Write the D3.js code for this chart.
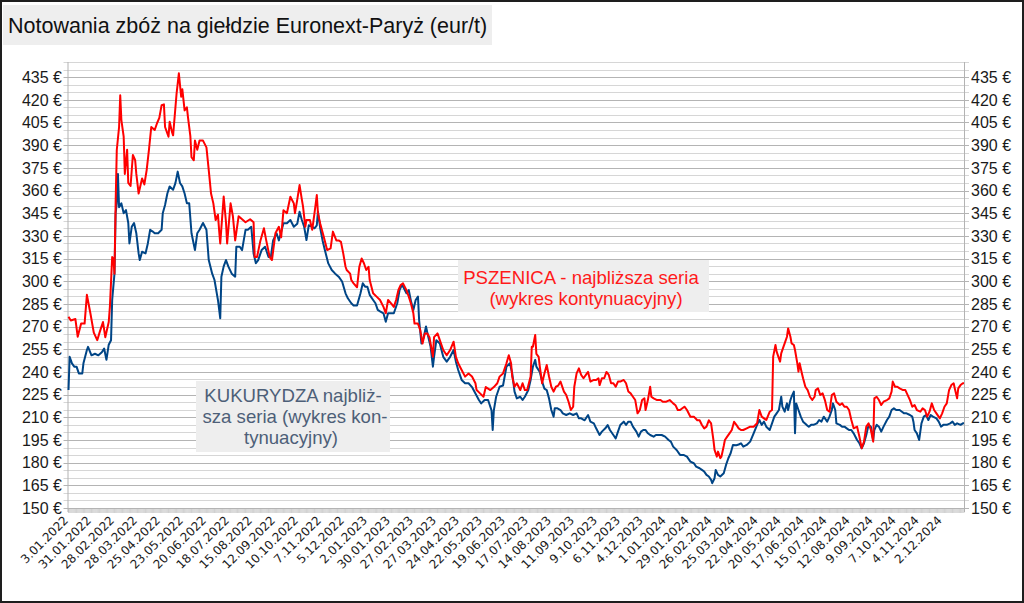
<!DOCTYPE html>
<html><head><meta charset="utf-8">
<script src="https://cdn.jsdelivr.net/npm/d3@7"></script>
<style>
html,body{margin:0;padding:0;background:#fff;}
svg{display:block;}
text{font-family:"Liberation Sans",Arial,sans-serif;}
</style></head>
<body>
<script>
// ---- data (session index = trading day counted from 3.01.2022) ----
const title = "Notowania zbóż na giełdzie Euronext-Paryż (eur/t)";
const tickLabels = ["3.01.2022","31.01.2022","28.02.2022","28.03.2022","25.04.2022","23.05.2022","20.06.2022","18.07.2022","15.08.2022","12.09.2022","10.10.2022","7.11.2022","5.12.2022","2.01.2023","30.01.2023","27.02.2023","27.03.2023","24.04.2023","22.05.2023","19.06.2023","17.07.2023","14.08.2023","11.09.2023","9.10.2023","6.11.2023","4.12.2023","1.01.2024","29.01.2024","26.02.2024","25.03.2024","22.04.2024","20.05.2024","17.06.2024","15.07.2024","12.08.2024","9.09.2024","7.10.2024","4.11.2024","2.12.2024"];
const sessionsPerLabel = 20;
const sessionCount = 780;
const yTicks = [150,165,180,195,210,225,240,255,270,285,300,315,330,345,360,375,390,405,420,435];
const yMin = 150, yMax = 445, gridStep = 5;

const wheat = [[0,276.5],[2,274],[6,275],[8,263.3],[11,272],[14,272],[16,291],[19,279],[22,266],[25,261],[27,266],[30,273],[32,263],[35,273],[36,283],[38,316],[39,315],[40,305],[41,351.7],[42,386.8],[44,402],[45,423],[46,406.6],[48,395.6],[49,371],[51,387],[52,365],[54,363],[56,383.5],[58,380],[59,371],[61,358],[64,368],[66,364],[68,373.5],[70,387],[72,402],[75,400],[77,404.5],[79,408],[81,416.5],[83,417],[84,402],[87,395.6],[88,405.5],[90,398.8],[91,396.5],[94,424],[96,437.5],[98,422],[99,427],[101,413],[103,415],[104,408],[106,396],[107,382],[109,380],[110,393],[112,387],[114,393],[117,393],[120,388.5],[122,373.5],[124,358],[126,351.5],[128,340.5],[130,344],[131,334],[132,325],[135,356],[137,339],[138,325],[141,351.5],[143,343],[145,327],[148,343],[151,341],[154,339],[158,341],[161,339],[162,316],[164,316],[167,327],[170,335],[172,327],[175,316],[177,314],[180,331.7],[183,336],[185,329],[187,347],[190,345],[193,355.9],[196,351.5],[197,345],[199,354],[201,363.6],[203,354],[204,349.5],[206,336],[207,340.5],[210,340.5],[212,334],[214,345],[216,357],[217,345],[219,338],[222,329.5],[225,320.6],[228,321.7],[230,332.8],[233,327],[235,327],[237,326],[239,318.4],[241,309.6],[242,307.4],[245,305],[246,300.8],[248,298.6],[251,296],[253,309.6],[255,315],[257,311.9],[259,307.4],[261,309.6],[262,300.8],[265,292],[268,289.8],[271,287.6],[274,283],[276,278.8],[278,287.6],[281,285],[283,283],[285,287.6],[287,294.2],[289,297.5],[291,298.6],[294,294],[296,289.8],[298,285],[300,278.8],[301,272],[303,272],[304,272],[306,267.7],[308,258.8],[310,265.5],[312,265.5],[314,263],[317,250.1],[318,263],[321,265.5],[323,261],[326,254.5],[329,251],[332,254.5],[335,260],[337,250],[339,245.7],[342,241.3],[345,236.9],[348,239],[351,237],[354,232.5],[355,228],[358,225.8],[361,223.6],[363,230],[367,228],[370,230],[373,232.5],[375,236.9],[378,239],[381,245.7],[383,251],[385,245.7],[386,237],[388,230.2],[390,232.5],[393,228],[395,232.5],[397,228],[399,228],[402,237],[403,256.7],[404,256.7],[406,264.4],[407,252],[409,250],[410,243.5],[412,232.5],[414,239],[416,244.6],[418,237],[420,230.2],[422,227],[424,230.2],[426,231],[428,233.6],[431,227],[433,224.7],[435,220.3],[437,214.8],[439,217],[440,230.2],[442,239],[444,242.4],[446,238],[448,235.8],[451,239],[452,240],[454,233.6],[457,234.7],[459,234.7],[461,235.8],[462,231.3],[464,235.8],[466,235.8],[468,240],[470,238],[472,232.5],[474,232.5],[476,230.2],[478,233.6],[480,233.6],[483,234.7],[485,232.5],[487,227],[489,225.8],[491,223.6],[493,221.4],[495,212.6],[497,214.8],[499,221.4],[501,222.5],[502,214.8],[504,221.4],[506,230.2],[507,223.6],[509,222.5],[512,221.4],[515,221.4],[517,220.3],[520,220.3],[523,221.4],[526,219.2],[528,218],[530,214.8],[532,214.8],[534,216],[536,217],[538,214.8],[541,210.4],[544,210.4],[547,208],[549,208],[551,204.9],[553,202.7],[555,203.8],[557,208],[559,206],[561,195],[562,188.4],[564,184],[565,187.3],[567,183],[568,184],[570,191],[571,195],[573,197.2],[575,199.4],[577,201.6],[579,207],[581,205],[583,202.7],[585,201.6],[587,201.6],[590,202.7],[593,203.8],[596,203.8],[599,206],[601,214.8],[603,210.4],[605,209.3],[607,208.2],[610,213.7],[612,214.8],[613,250.1],[615,257.8],[616,253.4],[618,249],[619,246.8],[620,252.3],[622,256.7],[623,258.9],[625,263.3],[626,268.8],[628,263.3],[629,258.9],[631,257.8],[632,254.5],[634,245.7],[635,240.2],[636,245.7],[638,239],[639,235.8],[641,230.2],[643,228],[645,223.6],[647,221.4],[649,223.6],[650,228],[652,229.1],[654,224.7],[656,225.8],[658,221.4],[660,214.8],[662,213.7],[664,224.7],[666,225.8],[668,220.3],[671,218.1],[673,219.2],[675,217],[677,217],[679,214.8],[681,208.2],[683,202.7],[686,203.8],[688,197.2],[690,189.5],[692,193.9],[694,203.8],[696,206],[698,201.6],[700,193.9],[701,222.5],[703,223.6],[705,221.4],[707,218.1],[709,220.3],[712,221.4],[714,222.5],[716,227],[717,233.6],[719,230.2],[721,230.2],[723,229.1],[726,228],[728,228],[730,224.7],[732,221.4],[734,217],[736,218.1],[738,214.8],[741,213.7],[743,215.9],[745,214.8],[747,210.4],[749,213.7],[751,219.2],[753,214.8],[755,212.6],[758,209.3],[760,212.6],[762,217],[764,219.2],[766,228],[768,231.3],[770,232.5],[771,229.1],[773,222.5],[774,229.1],[776,231.3],[778,232.5],[779,232.5]];

const corn = [[0,228],[1,250],[3,245.7],[5,243.5],[7,243.5],[9,239],[12,239],[13,245.7],[16,254.5],[17,256.6],[20,251],[23,252],[26,251],[29,253],[31,255.5],[33,248],[35,258],[37,261],[38,287.6],[40,305],[41,345],[42,351.5],[43,371],[44,349],[46,351.5],[48,345],[50,347],[52,338.5],[53,325],[55,336],[57,338.5],[59,331.7],[61,318.4],[62,314],[64,319.5],[67,318.4],[69,325],[71,334],[73,333],[75,331.7],[78,331.7],[81,334],[82,345],[84,350.4],[86,358],[88,362.7],[91,360.5],[93,364.9],[95,372.5],[97,365],[99,362.7],[101,358],[103,351.5],[105,351.5],[107,331.7],[110,320.6],[112,331.7],[114,334],[117,338.5],[120,334],[122,314],[125,305],[127,300.8],[129,292],[130,287.6],[132,275.5],[133,303],[135,309.8],[137,314],[139,309.8],[142,305],[145,303],[146,322.8],[149,322.8],[151,320.6],[154,334],[156,334],[159,336],[161,318.4],[163,311.9],[165,314],[168,320.6],[171,322.8],[174,316],[176,316],[178,327],[181,331.7],[183,327],[187,338.3],[190,338.3],[193,340.5],[196,336],[199,338],[201,346],[203,340.5],[205,336],[207,327.2],[209,337],[212,336],[214,335],[216,337],[217,346],[219,335],[221,327],[223,320.6],[226,311.8],[229,307.4],[232,305],[235,303],[238,299.8],[241,292],[243,288.7],[246,285.4],[248,284],[251,284],[254,292],[256,298.6],[258,296.4],[260,296.4],[262,291],[265,287.6],[267,285.4],[269,281],[271,280],[274,278.8],[276,273.2],[278,278.8],[281,278.8],[283,278.8],[286,285.4],[288,294.2],[290,297.5],[291,296.4],[294,292],[296,294.2],[298,286.5],[300,281],[302,287.6],[304,289.8],[305,274.3],[307,258.8],[309,263],[311,270],[313,263],[315,256.6],[317,243.5],[318,250],[320,261],[323,258.8],[326,250],[329,246.8],[332,250],[335,254.5],[337,246.8],[339,241.3],[342,234.7],[345,232.5],[348,232.5],[351,230],[354,225.8],[357,221.4],[359,219.2],[362,221.4],[365,221.4],[368,214.6],[369,201.6],[370,214.6],[372,223.6],[375,230.2],[378,231],[381,243.5],[384,245.7],[386,239],[388,227],[390,222.5],[393,223.6],[395,221.4],[397,223.6],[400,228],[402,234.7],[404,243.5],[406,248],[407,243.5],[410,240],[412,233.6],[414,229],[416,228],[418,222.5],[420,214.8],[422,210.4],[423,216],[425,216],[428,214.8],[430,212.6],[433,211.5],[436,212.6],[439,211.5],[442,212.6],[444,209.3],[446,209.3],[449,208],[452,211.5],[454,207.1],[457,206],[459,202.7],[462,198.3],[464,200.5],[467,202.7],[469,204.9],[471,201.6],[474,198.3],[476,196],[478,200.5],[480,204.9],[483,207.1],[485,204.9],[487,207.1],[489,207.1],[491,203.8],[494,200.5],[496,197.2],[498,200.5],[500,201.6],[502,201.6],[504,199.4],[506,198.3],[509,197.2],[511,198.3],[513,198.3],[516,198.3],[519,197.2],[522,195],[524,193.9],[526,190.6],[529,188.4],[532,185.1],[535,185.1],[538,184],[541,180.7],[544,179.6],[546,177.4],[549,176.3],[551,175.2],[553,174.1],[555,171.9],[557,170.8],[559,168.6],[560,166.4],[562,169.7],[563,175.2],[565,171.9],[567,170.8],[570,173],[572,178.5],[574,182.9],[576,186.2],[578,191.7],[581,191.5],[583,192],[585,192.8],[587,190.6],[590,191.7],[593,193.9],[596,199.4],[599,205],[601,208.2],[603,205],[605,207.1],[607,203.8],[610,201.6],[612,206],[614,210.4],[616,212.6],[618,214.8],[620,223.6],[621,217],[623,213.7],[625,219.2],[626,214.8],[628,221.4],[629,223.6],[631,227],[632,199.4],[633,219.2],[635,214.8],[637,210.4],[639,207.1],[642,205],[644,203.8],[646,205],[648,205],[651,206],[653,208.2],[655,207.1],[657,210.4],[660,207.1],[662,210.4],[664,214.8],[665,219.2],[667,214.8],[668,206],[671,205],[673,203.8],[675,203.8],[677,202.7],[679,201.6],[681,201.6],[683,199.4],[686,195],[688,192.8],[690,189.5],[692,192.8],[694,198.3],[696,205],[698,203.8],[700,195],[701,201.6],[703,205],[705,203.8],[707,200.5],[709,203.8],[712,208.2],[714,210.4],[716,214.8],[718,215.9],[720,214.8],[723,214.8],[725,213.7],[727,212.6],[729,212.6],[732,211.5],[734,210.4],[735,207.1],[736,201.6],[738,199.4],[740,195],[742,206],[744,210.4],[746,211.5],[748,208.2],[750,211.5],[752,210.4],[755,209.3],[757,207.1],[759,203.8],[761,205],[764,205],[767,206],[769,207.1],[771,205],[773,206],[776,205],[778,206],[779,206]];

const wheatLabel = ["PSZENICA - najbliższa seria", "(wykres kontynuacyjny)"];
const cornLabel = ["KUKURYDZA najbliż-", "sza seria (wykres kon-", "tynuacyjny)"];

// ---- drawing ----
const W = 1024, H = 603;
const svg = d3.select("body").append("svg").attr("width", W).attr("height", H);
svg.append("rect").attr("width", W).attr("height", H).attr("fill", "#fff");

const plot = {left: 68.5, right: 964, top: 62, bottom: 508};
const x = d3.scaleLinear().domain([0, sessionCount - 1]).range([plot.left, plot.right]);
const y = d3.scaleLinear().domain([yMin, yMax]).range([plot.bottom, plot.top]);

// grid lines every 5
const gridVals = d3.range(yMin, yMax + 0.01, gridStep);
svg.append("g").selectAll("line").data(gridVals).join("line")
  .attr("x1", plot.left - 5).attr("x2", plot.right + 5)
  .attr("y1", d => Math.round(y(d)) + 0.5).attr("y2", d => Math.round(y(d)) + 0.5)
  .attr("stroke", d => ((d - yMin) % 15 === 0) ? "#b4b4b4" : "#d6d6d6")
  .attr("stroke-width", 1);

// axis lines
svg.append("line").attr("x1", plot.left - 0.5).attr("x2", plot.left - 0.5)
  .attr("y1", plot.top).attr("y2", plot.bottom + 4).attr("stroke", "#b3b3b3");
svg.append("line").attr("x1", plot.right + 0.5).attr("x2", plot.right + 0.5)
  .attr("y1", plot.top).attr("y2", plot.bottom + 4).attr("stroke", "#b3b3b3");

// session ticks on x axis
svg.append("g").selectAll("line").data(d3.range(sessionCount)).join("line")
  .attr("x1", d => x(d)).attr("x2", d => x(d))
  .attr("y1", plot.bottom + 1).attr("y2", plot.bottom + 5)
  .attr("stroke", "#a8a8a8").attr("stroke-width", 0.55);

// y labels left & right
const yl = svg.append("g").attr("font-size", "16px").attr("fill", "#1a1a1a");
yl.selectAll("text.l").data(yTicks).join("text").attr("class", "l")
  .attr("x", 62).attr("y", d => y(d)).attr("dy", "0.36em")
  .attr("text-anchor", "end").text(d => d + " €");
yl.selectAll("text.r").data(yTicks).join("text").attr("class", "r")
  .attr("x", 971).attr("y", d => y(d)).attr("dy", "0.36em")
  .attr("text-anchor", "start").text(d => d + " €");

// x labels
svg.append("g").selectAll("text").data(tickLabels).join("text")
  .attr("transform", (d, i) => `translate(${x(i * sessionsPerLabel) + 0.5},${plot.bottom + 13}) rotate(-45)`)
  .attr("text-anchor", "end").attr("font-size", "12px")
  .style("font-family", "'DejaVu Sans', sans-serif").attr("fill", "#1a1a1a")
  .text(d => d);

// series lines
const line = d3.line().x(d => x(d[0])).y(d => y(d[1]));
svg.append("path").datum(corn).attr("d", line).attr("fill", "none")
  .attr("stroke", "#004586").attr("stroke-width", 2).attr("stroke-linejoin", "round");
svg.append("path").datum(wheat).attr("d", line).attr("fill", "none")
  .attr("stroke", "#ff0000").attr("stroke-width", 2).attr("stroke-linejoin", "round");

// annotation boxes
function note(lines, box, color, cx, baselines) {
  const g = svg.append("g");
  g.append("rect").attr("x", box[0]).attr("y", box[1]).attr("width", box[2]).attr("height", box[3]).attr("fill", "#eeeeee");
  g.selectAll("text").data(lines).join("text")
    .attr("x", (d, i) => cx[i]).attr("y", (d, i) => baselines[i])
    .attr("text-anchor", "middle").attr("font-size", "18.6px").attr("fill", color).text(d => d);
}
note(wheatLabel, [458, 260, 251, 52], "#ff1a1a", [581, 586], [283.5, 305]);
note(cornLabel, [196, 381, 194, 71], "#4d5f78", [293, 295, 291], [402, 423, 444]);

// title
svg.append("rect").attr("x", 3).attr("y", 5).attr("width", 489).attr("height", 40).attr("fill", "#eeeeee");
svg.append("text").attr("x", 8).attr("y", 33).attr("font-size", "21.5px").attr("fill", "#111").text(title);

// outer border
svg.append("rect").attr("x", 1).attr("y", 1).attr("width", W - 2).attr("height", H - 2)
  .attr("fill", "none").attr("stroke", "#1e1e1e").attr("stroke-width", 2);
</script>
</body></html>
